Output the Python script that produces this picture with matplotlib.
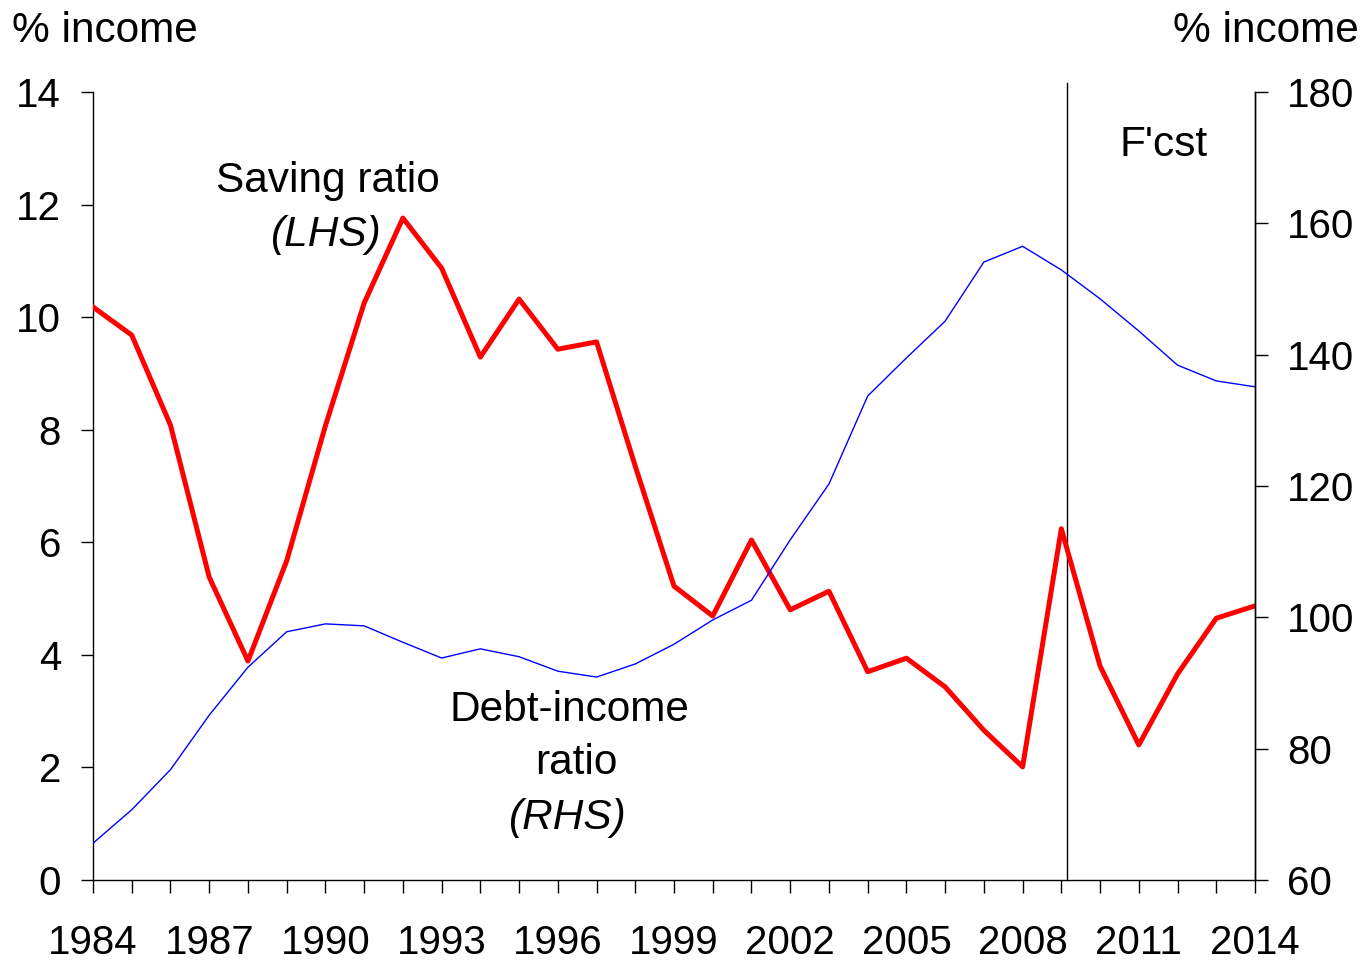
import matplotlib.pyplot as plt

plt.rcParams["font.family"] = ["Liberation Sans", "DejaVu Sans"]

years = list(range(1984, 2015))
saving_ratio = [10.18, 9.68, 8.08, 5.38, 3.89, 5.67, 8.07, 10.25, 11.76, 10.87,
                9.29, 10.32, 9.43, 9.56, 7.35, 5.22, 4.69, 6.04, 4.80, 5.13,
                3.70, 3.94, 3.43, 2.66, 2.01, 6.24, 3.80, 2.40, 3.66, 4.65, 4.87]
debt_income = [65.6, 70.7, 76.8, 85.1, 92.4, 97.8, 99.0, 98.7, 96.2, 93.8,
               95.2, 94.0, 91.8, 90.9, 92.9, 95.9, 99.6, 102.6, 111.8, 120.3,
               133.7, 139.5, 145.1, 154.1, 156.5, 152.9, 148.5, 143.6, 138.4, 136.0, 135.1]
xtick_labels = list(range(1984, 2015, 3))
forecast_start = 2009.15

TICK_FS = 29
LABEL_FS = 30.5


def build():
    fig = plt.figure(figsize=(13.68, 9.63), dpi=100)
    ax = fig.add_axes([0.068, 0.0862, 0.8494, 0.8183])
    ax2 = ax.twinx()

    ax.plot(years, saving_ratio, color="#ff0000", lw=3.6, zorder=3)
    ax2.plot(years, debt_income, color="#0000ff", lw=1.0, zorder=2)
    ax.axvline(forecast_start, ymin=0, ymax=1.012, color="black", lw=1.0, clip_on=False)

    ax.set_xlim(1984, 2014)
    ax.set_ylim(0, 14)
    ax2.set_ylim(60, 180)
    ax.set_yticks(range(0, 15, 2))
    ax2.set_yticks(range(60, 181, 20))
    ax.set_xticks(years, minor=True)
    ax.set_xticks(xtick_labels)

    for a in (ax, ax2):
        a.spines["top"].set_visible(False)
        for s in a.spines.values():
            s.set_linewidth(1.0)
    ax2.spines["left"].set_visible(False)
    ax2.spines["bottom"].set_visible(False)

    ax.tick_params(axis="y", direction="out", length=9, width=1, labelsize=TICK_FS, pad=14)
    ax2.tick_params(axis="y", direction="out", length=9, width=1, labelsize=TICK_FS, pad=14)
    ax.tick_params(axis="x", which="both", direction="out", length=9, width=1,
                   labelsize=TICK_FS, pad=23)

    fig.text(0.009, 0.968, "% income", fontsize=LABEL_FS, ha="left", va="center")
    fig.text(0.993, 0.968, "% income", fontsize=LABEL_FS, ha="right", va="center")

    ax.text(1990.07, 12.42, "Saving ratio", fontsize=LABEL_FS, ha="center", va="center")
    ax.text(1990.0, 11.46, "(LHS)", fontsize=LABEL_FS, ha="center", va="center", style="italic")
    ax2.text(1996.3, 85.9, "Debt-income", fontsize=LABEL_FS, ha="center", va="center")
    ax2.text(1996.47, 77.8, "ratio", fontsize=LABEL_FS, ha="center", va="center")
    ax2.text(1996.24, 69.4, "(RHS)", fontsize=LABEL_FS, ha="center", va="center", style="italic")
    ax.text(2011.63, 13.06, "F'cst", fontsize=LABEL_FS, ha="center", va="center")

    fig.savefig("out.png", dpi=100)
    plt.close(fig)


if __name__ == "__main__":
    build()
